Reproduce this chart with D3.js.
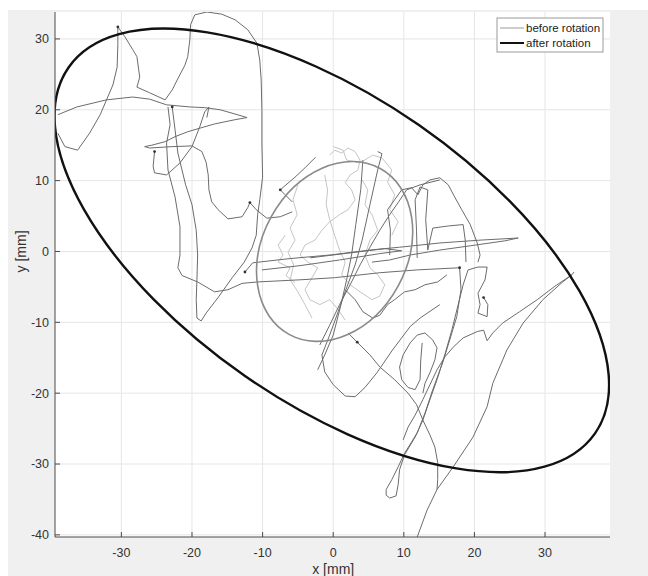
<!DOCTYPE html>
<html>
<head>
<meta charset="utf-8">
<script src="https://cdn.jsdelivr.net/npm/d3@7"></script>
<style>
  html, body { margin: 0; padding: 0; background: #fff; }
  svg { display: block; font-family: "Liberation Sans", Arial, Helvetica, sans-serif; }
</style>
</head>
<body>
<figure id="chart" style="margin:0"></figure>
<script>
// axis ticks
const xTicks = [-30, -20, -10, 0, 10, 20, 30];
const yTicks = [-40, -30, -20, -10, 0, 10, 20, 30];
const xLimits = [-39.4, 39.2];
const yLimits = [-40.3, 33.8];

// fitted ellipses: [cx, cy, semi-major, semi-minor, angle deg]
const beforeEllipse = [0.2, 0.0, 13.4, 10.2, 61.2];
const afterEllipse = [-0.2, 0.15, 45.4, 21.55, -34.8];

// gait traces (x, y in mm)
const pathA = [[-39.0,16.7],[-38.0,14.8],[-36.2,14.3],[-34.5,16.7],[-33.0,19.3],[-32.1,21.4],[-31.2,23.5],[-30.6,26.0],[-30.5,29.2],[-30.5,31.7],[-29.5,30.3],[-28.4,28.5],[-27.8,27.5],[-27.4,24.6],[-27.8,23.2],[-26.0,22.4],[-23.8,21.4],[-22.8,22.8],[-22.1,24.2],[-21.0,26.3],[-20.6,27.5],[-20.3,29.9],[-20.2,32.0],[-19.6,33.4],[-17.9,33.8],[-15.8,33.5],[-13.9,32.7],[-12.1,31.3],[-10.8,29.4],[-10.4,27.0],[-10.2,24.2],[-10.1,20.0],[-10.1,15.3],[-10.0,10.5],[-10.4,7.3],[-10.7,5.2],[-10.9,2.3],[-11.5,0.5],[-12.6,-1.5],[-14.3,-3.7],[-16.3,-6.5],[-18.0,-8.7],[-18.7,-9.8],[-19.3,-9.4],[-19.4,-6.8],[-19.3,-4.0],[-19.2,-0.5],[-19.4,3.0],[-20.0,6.6],[-20.9,9.4],[-22.0,13.9],[-22.4,17.2],[-22.8,20.4]];
const pathB = [[-39.0,19.3],[-36.3,20.4],[-32.1,21.4],[-28.4,21.8],[-26.0,21.5],[-23.6,20.7],[-20.3,20.4],[-18.2,20.3],[-16.0,20.0],[-13.9,19.4],[-12.2,18.9],[-13.9,18.6],[-16.8,18.0],[-18.9,17.4],[-20.6,16.9],[-22.4,16.2],[-23.8,15.5],[-25.7,15.0],[-26.7,14.8],[-26.0,14.6],[-22.8,14.8],[-20.0,14.9],[-18.6,14.1],[-18.0,12.6],[-17.7,10.8],[-17.6,8.7],[-17.2,7.0],[-16.3,5.9],[-14.9,4.6],[-12.9,4.9],[-12.1,6.2],[-11.8,6.9],[-10.9,5.9],[-9.4,4.7],[-7.5,4.9],[-5.8,5.6]];
const pathC = [[-23.4,20.4],[-23.1,17.9],[-23.6,15.3],[-23.4,11.5],[-22.4,7.7],[-21.7,3.5],[-21.7,-0.5],[-22.0,-2.3],[-21.4,-3.4],[-19.2,-4.3],[-16.8,-5.7],[-14.9,-5.4],[-12.9,-4.5],[-10.7,-4.3],[-4.7,-4.0],[0.2,-3.7],[6.6,-3.0],[11.9,-2.6],[17.9,-2.3],[18.1,-5.4],[17.5,-9.2],[16.5,-12.5],[15.5,-15.7],[14.1,-19.5],[13.0,-22.8],[11.9,-25.6],[10.1,-28.5],[9.2,-30.4],[8.3,-32.2],[7.5,-33.6],[7.5,-34.4],[8.0,-34.8],[8.9,-34.5],[9.2,-32.9],[9.4,-30.8],[10.1,-28.7],[11.6,-26.2],[12.7,-23.8],[13.7,-20.9],[14.7,-18.1],[15.8,-14.6],[16.8,-11.1],[17.7,-7.5],[18.4,-4.7],[19.1,-2.6],[20.5,-2.2],[21.8,-2.2],[21.5,-4.0],[20.5,-5.9],[20.8,-7.5],[20.5,-8.7],[21.8,-9.2],[21.9,-7.5],[21.3,-6.5]];
const pathD = [[-25.3,14.1],[-25.5,12.0],[-25.3,11.1],[-23.6,10.8],[-21.7,12.5],[-20.0,14.8],[-18.9,17.6],[-18.2,19.7],[-17.6,20.4],[-17.9,18.9]];
const pathE = [[8.0,-0.5],[8.1,3.0],[7.7,5.9],[8.7,7.3],[9.7,8.7],[11.1,9.0],[12.0,8.0],[12.7,9.4],[13.7,10.1],[15.1,10.4],[16.3,9.4],[17.2,7.7],[18.2,5.9],[19.4,3.8],[20.4,1.2],[20.8,-0.5],[20.5,-1.5]];
const pathF = [[11.9,-0.9],[11.8,3.0],[11.6,7.3],[12.3,9.1],[13.4,8.7],[13.1,4.5],[13.4,0.2],[14.1,3.3],[16.3,3.6],[18.4,3.8],[18.7,1.6],[18.8,-1.5]];
const pathG = [[-12.5,-2.9],[-11.4,-1.6],[-6.1,-1.0],[-0.5,-0.5],[5.2,0.2],[9.4,0.6],[15.1,1.2],[20.8,1.6],[26.2,1.9],[24.3,1.5],[19.4,0.8],[15.1,0.2],[10.9,-0.5],[8.0,-1.2],[5.5,-1.5]];
const pathH = [[-10.1,-2.6],[-4.7,-2.0],[0.9,-1.2],[6.6,-0.3],[9.7,0.1],[7.3,0.4],[2.4,-0.2],[-3.3,-0.9]];
const pathI = [[6.3,14.1],[6.9,13.8],[6.3,11.5],[5.2,6.6],[4.1,1.6],[3.1,-1.9],[1.8,-5.4],[0.7,-8.5],[-0.5,-11.8],[-1.6,-14.6],[-1.2,-17.0],[0.0,-18.8],[1.7,-20.4],[3.1,-20.5],[4.5,-19.2],[6.2,-17.1],[8.4,-13.9],[10.9,-10.6],[12.3,-9.4],[15.1,-7.5]];
const pathJ = [[4.2,12.9],[3.9,8.7],[3.2,3.8],[2.6,-0.5],[1.9,-4.0],[1.1,-7.5],[0.0,-11.8],[-1.2,-14.6],[-2.2,-16.7]];
const pathK = [[15.1,10.1],[12.3,9.4],[10.4,8.7],[9.2,6.9],[8.0,5.2],[6.6,3.0],[5.2,0.6],[3.8,-1.9],[2.4,-4.7],[0.9,-7.5],[-0.5,-10.4],[-1.9,-13.2]];
const pathL = [[2.1,-11.5],[3.4,-12.8],[5.2,-14.6],[6.6,-16.3],[8.7,-18.1],[10.6,-20.0],[11.8,-21.6],[12.7,-23.8],[13.7,-25.9],[14.4,-27.6],[14.8,-29.8],[14.8,-32.2],[14.7,-33.6]];
const pathM = [[12.7,-20.0],[13.0,-18.6],[13.7,-17.1],[14.4,-15.3],[14.7,-13.6],[14.1,-12.5],[13.0,-11.5],[11.9,-11.8],[10.9,-12.9],[9.9,-14.6],[9.4,-16.3],[9.7,-18.1],[10.6,-19.2],[11.6,-19.5],[12.3,-18.1],[12.4,-15.3],[12.6,-12.9]];
const pathN = [[1.7,-5.4],[3.1,-6.8],[4.2,-8.5],[5.6,-9.4],[6.6,-9.0],[7.7,-7.5],[8.7,-6.8],[10.1,-5.7],[11.6,-5.4],[13.0,-4.7],[14.8,-4.3],[16.1,-3.3]];
const pathO = [[-5.8,7.0],[-6.8,8.0],[-7.5,8.7],[-5.4,10.5],[-4.0,11.8],[-2.9,12.9],[-2.5,13.3]];
const pathR1 = [[34.1,-2.9],[33.8,-3.3],[31.4,-4.9],[28.9,-6.8],[26.4,-8.5],[24.0,-10.1],[22.6,-11.5],[21.8,-12.6],[21.3,-11.1],[20.4,-11.3],[18.4,-12.2],[17.0,-13.5],[15.8,-14.9],[14.7,-16.7],[13.7,-18.8],[12.7,-20.9],[11.6,-23.1],[10.6,-24.8],[9.9,-26.6]];
const pathR2 = [[33.8,-3.3],[32.5,-4.3],[29.7,-6.8],[26.9,-10.1],[24.6,-13.9],[22.6,-18.6],[21.8,-21.9],[19.8,-26.2],[17.0,-30.4],[14.7,-33.6],[13.3,-36.5],[11.9,-40.3]];

// faint wander in the middle
const faint1 = [[-0.5,13.6],[0.2,14.3],[1.2,13.9],[2.1,14.6],[3.1,14.1],[3.8,12.9],[3.5,11.5],[2.4,10.8],[1.7,9.7],[2.6,8.7],[3.1,7.3],[2.1,5.9],[0.9,5.2],[-0.5,4.2],[-1.6,3.0],[-2.6,1.6],[-4.0,0.9],[-4.7,-0.5],[-3.6,-1.5],[-2.2,-2.3],[-3.0,-3.7],[-4.0,-5.4],[-3.3,-6.8],[-1.9,-7.5],[-0.5,-6.8],[0.7,-8.2],[1.7,-9.7]];
const faint2 = [[-5.0,9.4],[-5.7,7.3],[-5.1,5.2],[-6.1,3.3],[-5.4,1.6],[-6.4,-0.1],[-5.6,-1.9],[-6.1,-4.0],[-5.0,-5.7],[-4.0,-7.5],[-3.0,-9.4]];
const faint3 = [[-1.2,10.8],[-0.8,8.7],[-1.0,6.6],[-0.5,4.5],[0.2,2.3],[0.9,0.2],[1.7,-1.5],[1.2,-3.3],[2.4,-4.7],[3.8,-5.7],[5.5,-6.8],[6.6,-6.3],[7.3,-4.7],[6.3,-3.3],[5.2,-2.3],[4.5,-0.5],[5.2,1.6],[6.3,3.0],[5.5,5.2],[4.5,6.6],[4.9,8.7],[4.1,10.1]];
const faint4 = [[0.0,14.8],[1.4,14.3],[1.9,12.9],[3.8,12.5],[5.6,13.6],[6.9,13.2],[8.3,11.5],[7.7,9.8],[8.7,8.0],[8.0,5.9],[9.2,4.2],[8.3,2.3]];
const faint5 = [[-6.8,2.3],[-7.8,0.9],[-7.1,-0.5],[-7.8,-1.5],[-6.1,-2.3],[-6.7,-3.4],[-5.4,-4.4]];

// small end marks on the traces
const endMarks = [[-30.5,31.7],[-25.3,14.1],[-11.8,6.9],[-7.5,8.7],[-12.5,-2.9],[3.4,-12.8],[17.9,-2.3],[-22.8,20.4],[21.3,-6.5]];

const legendLabels = ["before rotation", "after rotation"];

const width = 648;
const height = 576;
const plot = { left: 55, right: 610, top: 12, bottom: 537 };

const x = d3.scaleLinear().domain(xLimits).range([plot.left, plot.right]);
const y = d3.scaleLinear().domain(yLimits).range([plot.bottom, plot.top]);

const svg = d3.select("#chart").append("svg")
  .attr("width", width)
  .attr("height", height);

// figure background (matlab grey) and white axes
svg.append("rect").attr("x", 8).attr("y", 10).attr("width", width - 8).attr("height", height - 10).attr("fill", "#f0f0f0");
svg.append("rect")
  .attr("x", plot.left).attr("y", plot.top)
  .attr("width", plot.right - plot.left).attr("height", plot.bottom - plot.top)
  .attr("fill", "#fff");

// grid
const grid = svg.append("g").attr("stroke", "#e6e6e6").attr("stroke-width", 1);
grid.selectAll(".gx").data(xTicks).enter().append("line")
  .attr("x1", d => x(d)).attr("x2", d => x(d))
  .attr("y1", plot.top).attr("y2", plot.bottom);
grid.selectAll(".gy").data(yTicks).enter().append("line")
  .attr("y1", d => y(d)).attr("y2", d => y(d))
  .attr("x1", plot.left).attr("x2", plot.right);

// traces
const line = d3.line().x(d => x(d[0])).y(d => y(d[1]));
const clip = svg.append("defs").append("clipPath").attr("id", "clip");
clip.append("rect").attr("x", plot.left).attr("y", plot.top)
  .attr("width", plot.right - plot.left).attr("height", plot.bottom - plot.top);

const traces = svg.append("g").attr("clip-path", "url(#clip)");

traces.selectAll(".faint")
  .data([faint1, faint2, faint3, faint4, faint5])
  .enter().append("path")
  .attr("d", line)
  .attr("fill", "none")
  .attr("stroke", "#bdbdbd")
  .attr("stroke-width", 0.9);

traces.selectAll(".trace")
  .data([pathA, pathB, pathC, pathD, pathE, pathF, pathG, pathH, pathI, pathJ, pathK, pathL, pathM, pathN, pathO, pathR1, pathR2])
  .enter().append("path")
  .attr("d", line)
  .attr("fill", "none")
  .attr("stroke", "#6c6c6c")
  .attr("stroke-width", 1)
  .attr("stroke-linejoin", "round");

traces.selectAll(".mark")
  .data(endMarks)
  .enter().append("circle")
  .attr("cx", d => x(d[0])).attr("cy", d => y(d[1]))
  .attr("r", 1.4)
  .attr("fill", "#333");

// ellipses
function drawEllipse(p, color, w) {
  const cx = x(p[0]), cy = y(p[1]);
  traces.append("ellipse")
    .attr("cx", cx).attr("cy", cy)
    .attr("rx", x(p[2]) - x(0))
    .attr("ry", y(0) - y(p[3]))
    .attr("transform", "rotate(" + (-p[4]) + "," + cx + "," + cy + ")")
    .attr("fill", "none")
    .attr("stroke", color)
    .attr("stroke-width", w);
}
drawEllipse(beforeEllipse, "#8a8a8a", 1.6);
drawEllipse(afterEllipse, "#111", 2.4);

// axes (ticks inside, no box)
const axisColor = "#4a4a4a";
const ax = svg.append("g").attr("stroke", axisColor).attr("stroke-width", 1);
ax.append("line").attr("x1", plot.left).attr("x2", plot.left).attr("y1", plot.top).attr("y2", plot.bottom);
ax.append("line").attr("x1", plot.left).attr("x2", plot.right).attr("y1", plot.bottom).attr("y2", plot.bottom);
ax.selectAll(".tx").data(xTicks).enter().append("line")
  .attr("x1", d => x(d)).attr("x2", d => x(d))
  .attr("y1", plot.bottom).attr("y2", plot.bottom - 5);
ax.selectAll(".ty").data(yTicks).enter().append("line")
  .attr("y1", d => y(d)).attr("y2", d => y(d))
  .attr("x1", plot.left).attr("x2", plot.left + 5);

svg.selectAll(".xl").data(xTicks).enter().append("text")
  .attr("x", d => x(d)).attr("y", 557)
  .attr("text-anchor", "middle")
  .attr("font-size", 12.5).attr("fill", "#333")
  .text(d => d);
svg.selectAll(".yl").data(yTicks).enter().append("text")
  .attr("x", plot.left - 6).attr("y", d => y(d))
  .attr("dy", "0.35em")
  .attr("text-anchor", "end")
  .attr("font-size", 12.5).attr("fill", "#333")
  .text(d => d);

svg.append("text")
  .attr("x", x(0)).attr("y", 574)
  .attr("text-anchor", "middle")
  .attr("font-size", 14).attr("fill", "#333")
  .text("x [mm]");
svg.append("text")
  .attr("transform", "translate(26," + y(0) + ") rotate(-90)")
  .attr("text-anchor", "middle")
  .attr("font-size", 14).attr("fill", "#333")
  .text("y [mm]");

// legend
const lg = svg.append("g").attr("transform", "translate(497,18)");
lg.append("rect").attr("width", 106).attr("height", 34)
  .attr("fill", "#fff").attr("stroke", "#9a9a9a").attr("stroke-width", 1);
const legendStyles = [["#9a9a9a", 1], ["#111", 2]];
legendLabels.forEach((label, i) => {
  const ly = 10 + i * 15;
  lg.append("line").attr("x1", 3).attr("x2", 27).attr("y1", ly).attr("y2", ly)
    .attr("stroke", legendStyles[i][0]).attr("stroke-width", legendStyles[i][1]);
  lg.append("text").attr("x", 29).attr("y", ly).attr("dy", "0.35em")
    .attr("font-size", 11.5).attr("fill", "#222")
    .text(label);
});
</script>
</body>
</html>
